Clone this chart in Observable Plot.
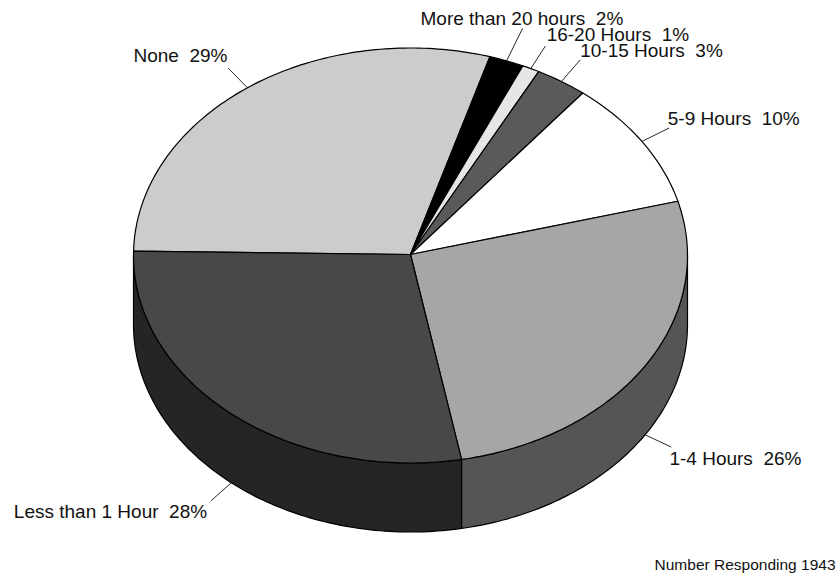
<!DOCTYPE html>
<html>
<head>
<meta charset="utf-8">
<script src="https://cdn.jsdelivr.net/npm/d3@7"></script>
<script src="https://cdn.jsdelivr.net/npm/@observablehq/plot@0.6"></script>
<style>
  html, body { margin: 0; padding: 0; background: #fff; }
  svg { display: block; }
</style>
</head>
<body>
<div id="chart"></div>
<script>
// Hours per week, share of respondents, clockwise from the left edge of the pie
const categories = ["None", "More than 20 hours", "16-20 Hours", "10-15 Hours", "5-9 Hours", "1-4 Hours", "Less than 1 Hour"];
const percents = [29, 2, 1, 3, 10, 26, 28];
const footnote = "Number Responding 1943";

// Fill colours for the top face and for the visible rim
const topColors = ["#cccccc", "#000000", "#e6e6e6", "#5a5a5a", "#ffffff", "#a6a6a6", "#484848"];
const rimColors = ["#cccccc", "#000000", "#e6e6e6", "#5a5a5a", "#ffffff", "#555555", "#252525"];

// Leader reach (radii) and label placement relative to the leader's outer end
const leaderReach = [1.116, 1.166, 1.119, 1.123, 1.116, 1.11, 1.113];
const labelAnchor = ["end", "start", "start", "start", "start", "start", "end"];
const labelDx = [-1, -102, 1.5, 0.2, -1, -1.5, -4];
const labelDy = [-6, -3.5, -5, -3.5, -3.5, 18, 17.5];

// Pie geometry in pixels: centre, tilted radii, rim depth, first-slice angle
const W = 839, H = 576;
const cx = 410, cy = 255, rx = 277, ry = 207.5, depth = 69 / ry;
const apexLift = 1 / ry;
const startDeg = -88.8;

const total = d3.sum(percents);
const rad = (d) => (d * Math.PI) / 180;
const arcPoint = (deg, r = 1, drop = 0) => ({x: r * Math.sin(rad(deg)), y: r * Math.cos(rad(deg)) - drop});

// Angular extent of each slice, shared out over the total of the stated percentages
let running = startDeg;
const slices = percents.map((p, i) => {
  const a0 = running;
  const a1 = (running += (p / total) * 360);
  return {i, name: categories[i], percent: p, a0, a1, mid: (a0 + a1) / 2};
});

const arcDegrees = (a0, a1) => {
  const n = Math.max(2, Math.ceil(a1 - a0));
  return d3.range(n + 1).map((k) => a0 + ((a1 - a0) * k) / n);
};

// Top face outlines
const topFace = slices.flatMap((s) => [
  {x: 0, y: apexLift, slice: s.i, fill: topColors[s.i]},
  ...arcDegrees(s.a0, s.a1).map((a) => ({...arcPoint(a), slice: s.i, fill: topColors[s.i]}))
]);

// Rim outlines: only the part facing the viewer, between 90 and 270 degrees
const rim = slices
  .filter((s) => s.a1 > 90 && s.a0 < 270)
  .flatMap((s) => {
    const degs = arcDegrees(Math.max(s.a0, 90), Math.min(s.a1, 270));
    return [
      ...degs.map((a) => ({...arcPoint(a), slice: s.i, fill: rimColors[s.i]})),
      ...degs.slice().reverse().map((a) => ({...arcPoint(a, 1, depth), slice: s.i, fill: rimColors[s.i]}))
    ];
  });

// Leaders start on the visible outer edge at each slice's middle angle
const isFront = (s) => Math.cos(rad(s.mid)) < 0;
const leaders = slices.flatMap((s) => {
  const drop = isFront(s) ? depth : 0;
  return [
    {...arcPoint(s.mid, 1, drop), slice: s.i},
    {...arcPoint(s.mid, leaderReach[s.i], drop), slice: s.i}
  ];
});
const labels = slices.map((s) => ({
  ...arcPoint(s.mid, leaderReach[s.i], isFront(s) ? depth : 0),
  text: `${s.name}  ${s.percent}%`,
  i: s.i
}));

const labelMark = (anchor) =>
  labels
    .filter((d) => labelAnchor[d.i] === anchor)
    .map((d) =>
      Plot.text([d], {
        x: "x", y: "y", text: "text",
        textAnchor: anchor, lineAnchor: "bottom",
        dx: labelDx[d.i], dy: labelDy[d.i],
        fontSize: 19, fill: "#111"
      })
    );

const chart = Plot.plot({
  width: W,
  height: H,
  margin: 0,
  style: {background: "#fff", fontFamily: "'Liberation Sans', Arial, sans-serif"},
  x: {domain: [-cx / rx, (W - cx) / rx], range: [0, W], axis: null},
  y: {domain: [cy / ry, (cy - H) / ry], range: [0, H], axis: null},
  marks: [
    Plot.line(rim, {x: "x", y: "y", z: "slice", fill: "fill", stroke: "#000", strokeWidth: 1.2, curve: "linear-closed"}),
    Plot.line(topFace, {x: "x", y: "y", z: "slice", fill: "fill", stroke: "#000", strokeWidth: 1.2, curve: "linear-closed"}),
    Plot.line(leaders, {x: "x", y: "y", z: "slice", stroke: "#111", strokeWidth: 0.9}),
    ...labelMark("start"),
    ...labelMark("end"),
    Plot.text([footnote], {
      text: (d) => d, frameAnchor: "bottom-right", lineAnchor: "bottom",
      dx: -4, dy: -7, fontSize: 15.5, fill: "#111"
    })
  ]
});
document.getElementById("chart").append(chart);
</script>
</body>
</html>
